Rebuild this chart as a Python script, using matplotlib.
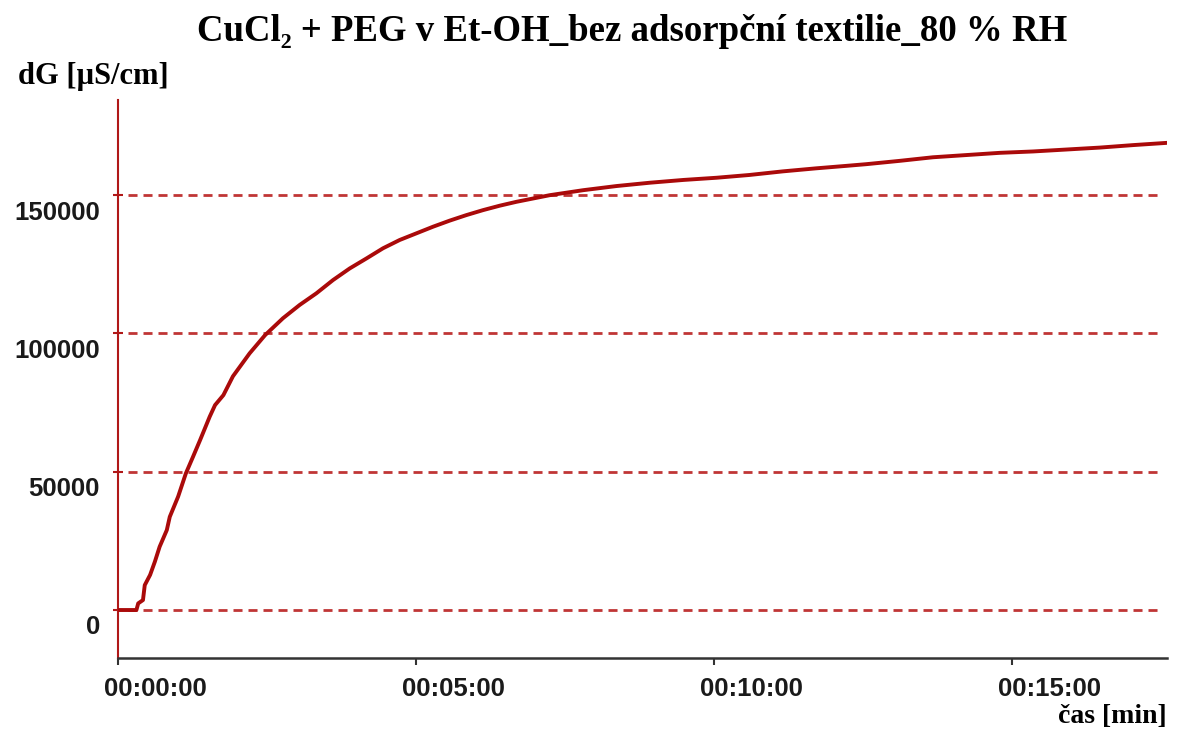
import matplotlib
matplotlib.use("Agg")
import matplotlib.pyplot as plt

plt.rcParams["lines.scale_dashes"] = False

# measured conductivity change vs. time (minutes)
time_min = [0.00, 0.31, 0.34, 0.42, 0.45, 0.54, 0.62, 0.70, 0.82, 0.87, 1.01,
            1.14, 1.26, 1.38, 1.54, 1.63, 1.77, 1.93, 2.21, 2.47, 2.77, 3.05,
            3.33, 3.61, 3.89, 4.17, 4.45, 4.73, 5.01, 5.29, 5.57, 5.85, 6.13,
            6.41, 6.69, 7.25, 7.81, 8.37, 8.93, 9.49, 10.05, 10.60, 11.16,
            11.72, 12.23, 12.56, 13.12, 13.68, 14.24, 14.80, 15.36, 15.92,
            16.48, 17.04, 17.60]
dG = [0, 0, 2400, 3600, 9000, 12700, 17500, 22900, 28900, 33700, 41000,
      49400, 55400, 61500, 69900, 74100, 77700, 84500, 92800, 99400, 105500,
      110300, 114500, 119300, 123500, 127100, 130800, 133800, 136200, 138600,
      140800, 142800, 144600, 146200, 147600, 150000, 151800, 153300, 154500,
      155500, 156300, 157300, 158600, 159700, 160600, 161200, 162400, 163700,
      164500, 165300, 165800, 166500, 167200, 168100, 168900]

y_ticks = [0, 50000, 100000, 150000]
y_tick_labels = ["0", "50000", "100000", "150000"]
x_ticks = [0, 5, 10, 15]
x_tick_labels = ["00:00:00", "00:05:00", "00:10:00", "00:15:00"]

red = "#AA0A0A"
grid_red = "#C03535"
serif = "Liberation Serif"
sans = "Liberation Sans"

fig = plt.figure(figsize=(11.89, 7.42), dpi=100)
ax = fig.add_axes([0.0992, 0.1132, 0.8823, 0.752])

ax.set_xlim(0, 17.61)
ax.set_ylim(-17350, 184400)

# dashed horizontal guide lines
ax.hlines(y_ticks, 0.17, 17.52, colors=grid_red, linewidth=2.0,
          linestyles=(0, (6.5, 4.3)), zorder=1)

ax.plot(time_min, dG, color=red, linewidth=2.8, zorder=3)

for s in ["top", "right"]:
    ax.spines[s].set_visible(False)
ax.spines["left"].set_color("#B01818")
ax.spines["left"].set_linewidth(1.5)
ax.spines["bottom"].set_color("#333333")
ax.spines["bottom"].set_linewidth(1.8)

ax.set_yticks(y_ticks)
ax.set_yticklabels([])
ax.tick_params(axis="y", direction="inout", length=7, width=1.5, color="#B01818")
ax.set_xticks(x_ticks)
ax.set_xticklabels([])
ax.tick_params(axis="x", direction="out", length=5, width=1.5, color="#333333")

for v, lab in zip(y_ticks, y_tick_labels):
    ax.annotate(lab, xy=(0, v), xycoords=("axes fraction", "data"),
                xytext=(-13, -12.5), textcoords="offset points",
                ha="right", va="center", fontsize=18.5, fontweight="bold",
                family=sans, color="#1a1a1a")

for t, lab in zip(x_ticks, x_tick_labels):
    ax.annotate(lab, xy=(t, 0), xycoords=("data", "axes fraction"),
                xytext=(-10, -22), textcoords="offset points",
                ha="left", va="center", fontsize=18.5, fontweight="bold",
                family=sans, color="#1a1a1a")

fig.text(0.532, 0.957, "CuCl₂ + PEG v Et-OH_bez adsorpční textilie_80 % RH",
         ha="center", va="center", fontsize=26.5, fontweight="bold", family=serif)
fig.text(0.015, 0.897, "dG [µS/cm]", ha="left", va="center",
         fontsize=22, fontweight="bold", family=serif)
fig.text(0.9815, 0.034, "čas [min]", ha="right", va="center",
         fontsize=20, fontweight="bold", family=serif)

fig.savefig("out.png", dpi=100, facecolor="white")
